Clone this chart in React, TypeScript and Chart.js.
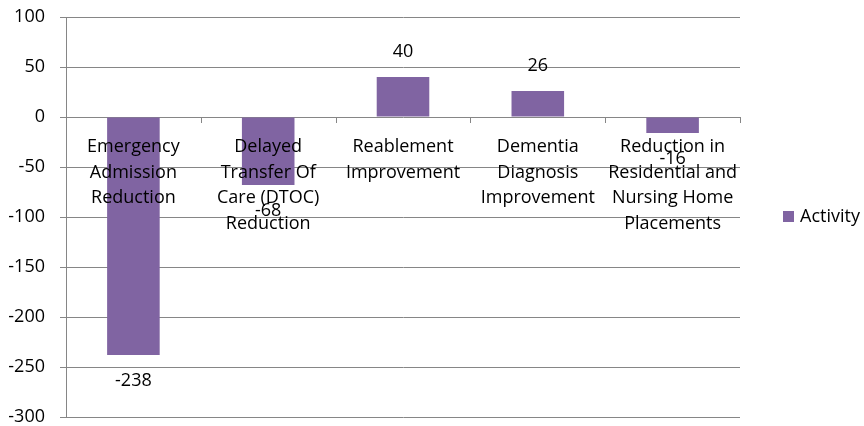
import React, { useEffect, useRef } from "react";
import { Chart, registerables } from "chart.js";

Chart.register(...registerables);

const categories: string[][] = [
  ["Emergency", "Admission", "Reduction"],
  ["Delayed", "Transfer Of", "Care (DTOC)", "Reduction"],
  ["Reablement", "Improvement"],
  ["Dementia", "Diagnosis", "Improvement"],
  ["Reduction in", "Residential and", "Nursing Home", "Placements"],
];
const seriesName = "Activity";
const activity = [-238, -68, 40, 26, -16];
const yMin = -300;
const yMax = 100;
const yStep = 50;

const FONT = '"Open Sans", "DejaVu Sans", sans-serif';
const BAR_COLOR = "#8064A2";
const GRID_COLOR = "#868686";

const labelsPlugin = {
  id: "excelLabels",
  afterDatasetsDraw(chart: any) {
    const { ctx, scales, chartArea } = chart;
    const x = scales.x;
    const y = scales.y;
    const y0 = Math.round(y.getPixelForValue(0));
    ctx.save();
    // category tick marks on the zero line
    ctx.strokeStyle = GRID_COLOR;
    ctx.lineWidth = 1;
    for (let i = 0; i <= categories.length; i++) {
      const xb = Math.round(x.getPixelForValue(i - 0.5)) + 0.5;
      ctx.beginPath();
      ctx.moveTo(xb, y0);
      ctx.lineTo(xb, y0 + 6);
      ctx.stroke();
    }
    // category labels
    ctx.fillStyle = "#000";
    ctx.font = `18px ${FONT}`;
    ctx.textAlign = "center";
    ctx.textBaseline = "alphabetic";
    categories.forEach((lines, i) => {
      const cx = x.getPixelForValue(i);
      lines.forEach((ln, j) => {
        ctx.fillText(ln, cx, y0 + 35 + j * 25.5);
      });
    });
    // data labels
    ctx.textBaseline = "middle";
    const meta = chart.getDatasetMeta(0);
    meta.data.forEach((el: any, i: number) => {
      const v = activity[i];
      const yEnd = y.getPixelForValue(v);
      const ly = v >= 0 ? yEnd - 25 : yEnd + 26;
      ctx.fillText(String(v), el.x, ly);
    });
    // legend
    const midY = (chartArea.top + chartArea.bottom) / 2;
    ctx.fillStyle = BAR_COLOR;
    ctx.fillRect(783, Math.round(midY) - 6, 11, 11);
    ctx.fillStyle = "#000";
    ctx.textAlign = "left";
    ctx.fillText(seriesName, 800, midY);
    ctx.restore();
  },
};

export default function App() {
  const ref = useRef<HTMLCanvasElement | null>(null);
  useEffect(() => {
    if (!ref.current) return;
    const chart = new Chart(ref.current, {
      type: "bar",
      data: {
        labels: categories.map((c) => c.join(" ")),
        datasets: [
          {
            label: seriesName,
            data: activity,
            backgroundColor: BAR_COLOR,
            borderWidth: 0,
            barPercentage: 0.39,
            categoryPercentage: 1,
          },
        ],
      },
      options: {
        animation: false,
        responsive: false,
        devicePixelRatio: 1,
        layout: { padding: { left: 0, right: 124, top: 17, bottom: 9 } },
        plugins: { legend: { display: false }, tooltip: { enabled: false } },
        scales: {
          x: { display: false },
          y: {
            min: yMin,
            max: yMax,
            afterFit(scale: any) {
              scale.width = 66;
              scale.paddingTop = 0;
              scale.paddingBottom = 0;
            },
            ticks: {
              stepSize: yStep,
              color: "#000",
              font: { family: FONT, size: 18 },
              padding: 15,
            },
            grid: { color: GRID_COLOR, tickLength: 6, lineWidth: 1 },
            border: { color: GRID_COLOR, width: 1 },
          },
        },
      },
      plugins: [labelsPlugin],
    });
    return () => chart.destroy();
  }, []);
  return (
    <div style={{ position: "fixed", left: 0, top: 0, width: 864, height: 426, background: "#fff" }}>
      <canvas ref={ref} width={864} height={426} />
    </div>
  );
}
